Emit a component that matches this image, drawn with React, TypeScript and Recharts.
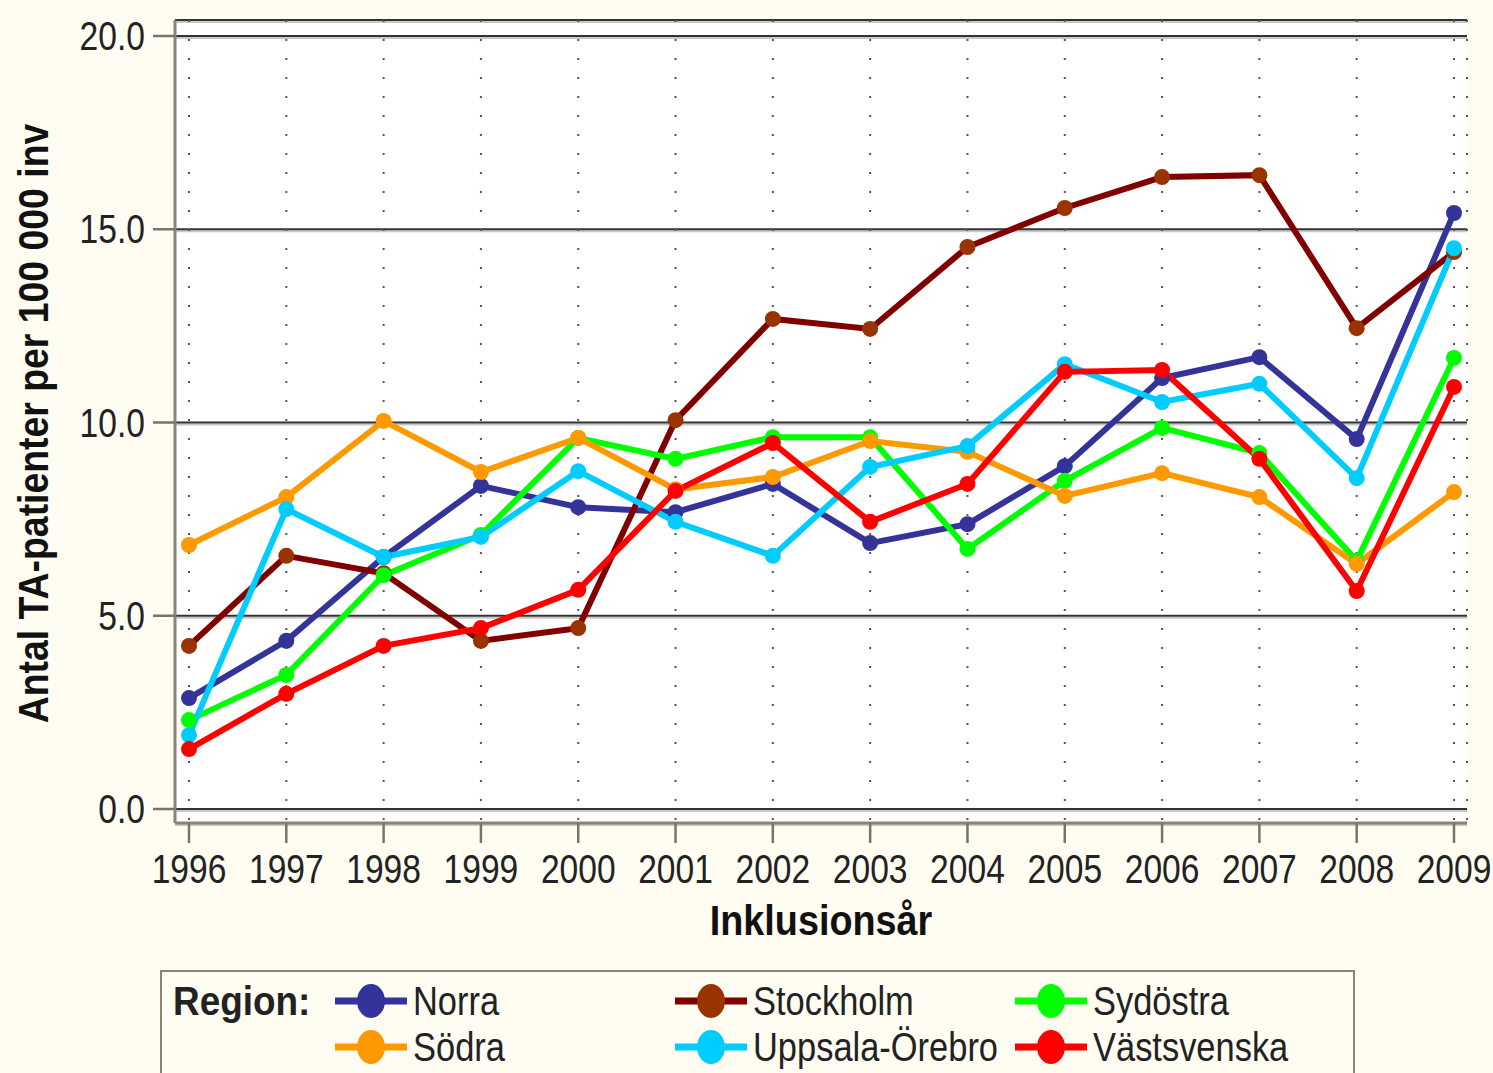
import React from "react";
import {
  LineChart,
  Line,
  XAxis,
  YAxis,
  CartesianGrid,
  Legend,
} from "recharts";

// the reference uses a tall, narrow sans; Liberation Sans squeezed horizontally comes close
const FONT = "'Liberation Sans', Arial, sans-serif";
const SX = 0.84;
const BG = "#fffcf2";
const FRAME = "#8c8474";
const TEXT = "#222";

const years = [1996, 1997, 1998, 1999, 2000, 2001, 2002, 2003, 2004, 2005, 2006, 2007, 2008, 2009];
const yTicks = [0, 5, 10, 15, 20];

const norra = [2.87, 4.35, 6.52, 8.36, 7.81, 7.68, 8.41, 6.88, 7.37, 8.87, 11.15, 11.69, 9.57, 15.42];
const stockholm = [4.22, 6.55, 6.1, 4.35, 4.68, 10.06, 12.68, 12.42, 14.54, 15.55, 16.35, 16.4, 12.44, 14.41];
const sydostra = [2.3, 3.47, 6.05, 7.09, 9.6, 9.06, 9.62, 9.62, 6.73, 8.49, 9.86, 9.21, 6.42, 11.67];
const sodra = [6.83, 8.07, 10.04, 8.72, 9.6, 8.27, 8.59, 9.52, 9.24, 8.1, 8.69, 8.07, 6.34, 8.2];
const uppsala = [1.91, 7.76, 6.52, 7.04, 8.74, 7.43, 6.55, 8.85, 9.39, 11.51, 10.53, 11.0, 8.56, 14.51];
const vastsvenska = [1.55, 2.98, 4.22, 4.68, 5.67, 8.23, 9.47, 7.43, 8.41, 11.31, 11.36, 9.06, 5.64, 10.92];

const regions = [
  { key: "norra", name: "Norra", line: "#333399", dot: "#333399", values: norra },
  { key: "stockholm", name: "Stockholm", line: "#800000", dot: "#993300", values: stockholm },
  { key: "sydostra", name: "Sydöstra", line: "#00ff00", dot: "#00ff00", values: sydostra },
  { key: "sodra", name: "Södra", line: "#ff9900", dot: "#ff9900", values: sodra },
  { key: "uppsala", name: "Uppsala-Örebro", line: "#00ccff", dot: "#00ccff", values: uppsala },
  { key: "vastsvenska", name: "Västsvenska", line: "#ff0000", dot: "#ff0000", values: vastsvenska },
];

const data = years.map((year, i) => {
  const row: Record<string, number | string> = { year: String(year) };
  regions.forEach((r) => {
    row[r.key] = r.values[i];
  });
  return row;
});

// horizontal grid: dark line with a light shadow underneath
const hLine = (p: any) => (
  <g key={`h-${p.index}`}>
    <line x1={p.x1} x2={p.x2} y1={p.y1 + 2} y2={p.y2 + 2} stroke="#c8c8c8" strokeWidth={2} />
    <line x1={p.x1} x2={p.x2} y1={p.y1} y2={p.y2} stroke="#333333" strokeWidth={2} />
  </g>
);

const vLine = (p: any) => (
  <line
    key={`v-${p.index}`}
    x1={p.x1}
    x2={p.x2}
    y1={p.y1}
    y2={p.y2}
    stroke="#555555"
    strokeWidth={2}
    strokeDasharray="2 17"
  />
);

const XTick = (p: any) => (
  <g transform={`translate(${p.x},${p.y})`}>
    <text transform={`scale(${SX},1)`} textAnchor="middle" dy="0.71em" fontSize={40} fontFamily={FONT} fill={TEXT}>
      {p.payload.value}
    </text>
  </g>
);

const YTick = (p: any) => (
  <g transform={`translate(${p.x},${p.y})`}>
    <text transform={`scale(${SX},1)`} textAnchor="end" dy="0.355em" fontSize={40} fontFamily={FONT} fill={TEXT}>
      {Number(p.payload.value).toFixed(1)}
    </text>
  </g>
);

const XTitle = (p: any) => {
  const vb = p.viewBox;
  return (
    <g transform={`translate(${vb.x + vb.width / 2},${vb.y + vb.height - 8})`}>
      <text transform="scale(0.9,1)" textAnchor="middle" fontSize={42} fontWeight="bold" fontFamily={FONT} fill="#111">
        {p.value}
      </text>
    </g>
  );
};

const YTitle = (p: any) => {
  const vb = p.viewBox;
  return (
    <g transform={`translate(33,${vb.y + vb.height / 2 + 2}) rotate(-90)`}>
      <text transform="scale(0.89,1)" textAnchor="middle" dy="0.355em" fontSize={42} fontWeight="bold" fontFamily={FONT} fill="#111">
        {p.value}
      </text>
    </g>
  );
};

const squeeze = (sx: number): React.CSSProperties => ({
  display: "inline-block",
  transform: `scaleX(${sx})`,
  transformOrigin: "0 50%",
  whiteSpace: "nowrap",
});

function RegionLegend({ payload }: any) {
  const items: any[] = payload ?? [];
  const cols = [173, 513, 853];
  const rows = [31, 77];
  return (
    <div
      style={{
        position: "relative",
        width: 1195,
        height: 103,
        boxSizing: "border-box",
        border: `2px solid ${FRAME}`,
        borderBottom: "none",
        background: BG,
        fontFamily: FONT,
        fontSize: 41,
        color: TEXT,
      }}
    >
      <div style={{ position: "absolute", left: 11, top: rows[0] - 25, lineHeight: "46px", fontWeight: "bold" }}>
        <span style={squeeze(0.9)}>Region:</span>
      </div>
      {regions.map((r, i) => {
        const item = items.find((it) => it.dataKey === r.key);
        const color = item?.color ?? r.line;
        const left = cols[i % 3];
        const cy = rows[Math.floor(i / 3)];
        return (
          <div key={r.key}>
            <svg width={74} height={40} style={{ position: "absolute", left: left - 2, top: cy - 22 }}>
              <line x1={2} x2={74} y1={20} y2={20} stroke={color} strokeWidth={7} />
              <ellipse cx={38} cy={20} rx={14} ry={17} fill={r.dot} />
            </svg>
            <div style={{ position: "absolute", left: left + 78, top: cy - 25, lineHeight: "46px" }}>
              <span style={squeeze(SX)}>{item?.value ?? r.name}</span>
            </div>
          </div>
        );
      })}
    </div>
  );
}

export default function App() {
  return (
    <div
      style={{
        position: "absolute",
        left: 0,
        top: 0,
        width: 1493,
        height: 1073,
        overflow: "hidden",
        background: BG,
      }}
    >
      <LineChart
        width={1493}
        height={1073}
        data={data}
        margin={{ top: 20, right: 26, bottom: 130, left: 0 }}
      >
        <CartesianGrid fill="#ffffff" horizontal={hLine} vertical={vLine} />
        <XAxis
          dataKey="year"
          interval={0}
          padding={{ left: 14, right: 13 }}
          height={120}
          tickSize={20}
          tickMargin={12}
          tick={<XTick />}
          tickLine={{ stroke: "#7a7468", strokeWidth: 2.5 }}
          axisLine={{ stroke: FRAME, strokeWidth: 3 }}
          label={{ value: "Inklusionsår", content: <XTitle /> }}
        />
        <XAxis
          xAxisId="top"
          orientation="top"
          dataKey="year"
          height={0}
          tick={false}
          tickLine={false}
          axisLine={{ stroke: FRAME, strokeWidth: 3 }}
        />
        <YAxis
          domain={[0, 20]}
          ticks={yTicks}
          padding={{ top: 16, bottom: 14 }}
          width={175}
          tickSize={22}
          tickMargin={8}
          tick={<YTick />}
          tickLine={{ stroke: "#7a7468", strokeWidth: 2.5 }}
          axisLine={{ stroke: FRAME, strokeWidth: 3 }}
          label={{ value: "Antal TA-patienter per 100 000 inv", content: <YTitle /> }}
        />
        <YAxis
          yAxisId="right"
          orientation="right"
          domain={[0, 20]}
          width={0}
          tick={false}
          tickLine={false}
          axisLine={{ stroke: FRAME, strokeWidth: 3 }}
        />
        {regions.map((r) => (
          <Line
            key={r.key}
            type="linear"
            dataKey={r.key}
            name={r.name}
            stroke={r.line}
            strokeWidth={6}
            dot={{ r: 8, fill: r.dot, stroke: r.dot, strokeWidth: 0 }}
            isAnimationActive={false}
          />
        ))}
        <Legend
          layout="horizontal"
          verticalAlign="middle"
          align="center"
          width={1195}
          height={103}
          wrapperStyle={{ left: 160, top: 970, width: 1195, height: 103 }}
          content={<RegionLegend />}
        />
      </LineChart>
    </div>
  );
}
